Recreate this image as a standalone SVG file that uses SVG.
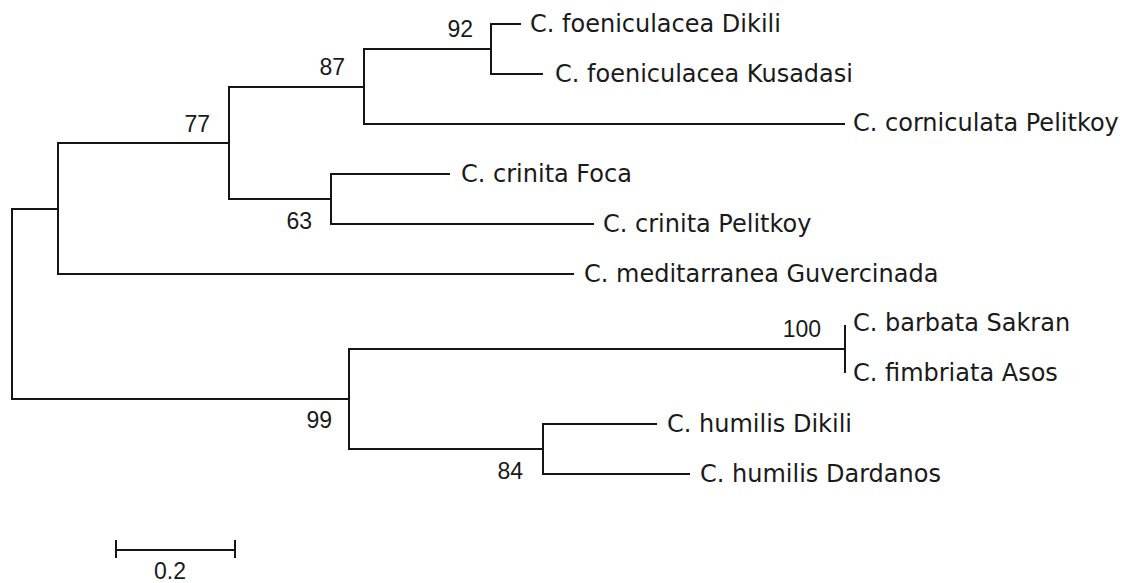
<svg xmlns="http://www.w3.org/2000/svg" width="1129" height="583" viewBox="0 0 1129 583">
<style>
.br{stroke:#151515;stroke-width:2;fill:none;stroke-linecap:square}
.leaf{font-family:"DejaVu Sans",sans-serif;font-size:24px;fill:#1a1a1a}
.bs{font-family:"Liberation Sans",Arial,sans-serif;font-size:23px;fill:#1a1a1a;text-anchor:end}
</style>
<rect width="1129" height="583" fill="#fff"/>
<g id="connectors" class="br">
<path d="M12,209V399M12,209H58M12,399H349"/>
<path d="M58,143V274M58,143H229M58,274H573"/>
<path d="M229,87V199M229,87H364M229,199H331"/>
<path d="M364,49V124M364,49H491M364,124H844"/>
<path d="M491,24V74M491,24H520M491,74H542"/>
<path d="M331,174V224M331,174H449M331,224H593"/>
<path d="M349,349V449M349,349H845M349,449H543"/>
<path d="M845,326V372"/>
<path d="M543,424V474M543,424H656M543,474H689"/>
</g>
<g id="leaf-foeniculacea-dikili"><text class="leaf" x="530" y="32">C. foeniculacea Dikili</text></g>
<g id="leaf-foeniculacea-kusadasi"><text class="leaf" x="555" y="82">C. foeniculacea Kusadasi</text></g>
<g id="leaf-corniculata-pelitkoy"><text class="leaf" x="853" y="131">C. corniculata Pelitkoy</text></g>
<g id="leaf-crinita-foca"><text class="leaf" x="461" y="182">C. crinita Foca</text></g>
<g id="leaf-crinita-pelitkoy"><text class="leaf" x="603" y="232">C. crinita Pelitkoy</text></g>
<g id="leaf-meditarranea"><text class="leaf" x="584" y="282">C. meditarranea Guvercinada</text></g>
<g id="leaf-barbata"><text class="leaf" x="853" y="331">C. barbata Sakran</text></g>
<g id="leaf-fimbriata"><text class="leaf" x="853" y="381">C. fimbriata Asos</text></g>
<g id="leaf-humilis-dikili"><text class="leaf" x="667" y="432">C. humilis Dikili</text></g>
<g id="leaf-humilis-dardanos"><text class="leaf" x="700" y="482">C. humilis Dardanos</text></g>
<g id="bootstrap">
<text class="bs" x="473" y="37">92</text>
<text class="bs" x="345" y="75">87</text>
<text class="bs" x="210" y="132">77</text>
<text class="bs" x="312" y="229">63</text>
<text class="bs" x="821" y="337">100</text>
<text class="bs" x="332" y="428">99</text>
<text class="bs" x="523" y="479">84</text>
</g>
<g id="scale-bar">
<path class="br" d="M116,550H235M116,541V557M235,541V557"/>
<text class="bs" style="text-anchor:start" x="154" y="579">0.2</text>
</g>
</svg>
